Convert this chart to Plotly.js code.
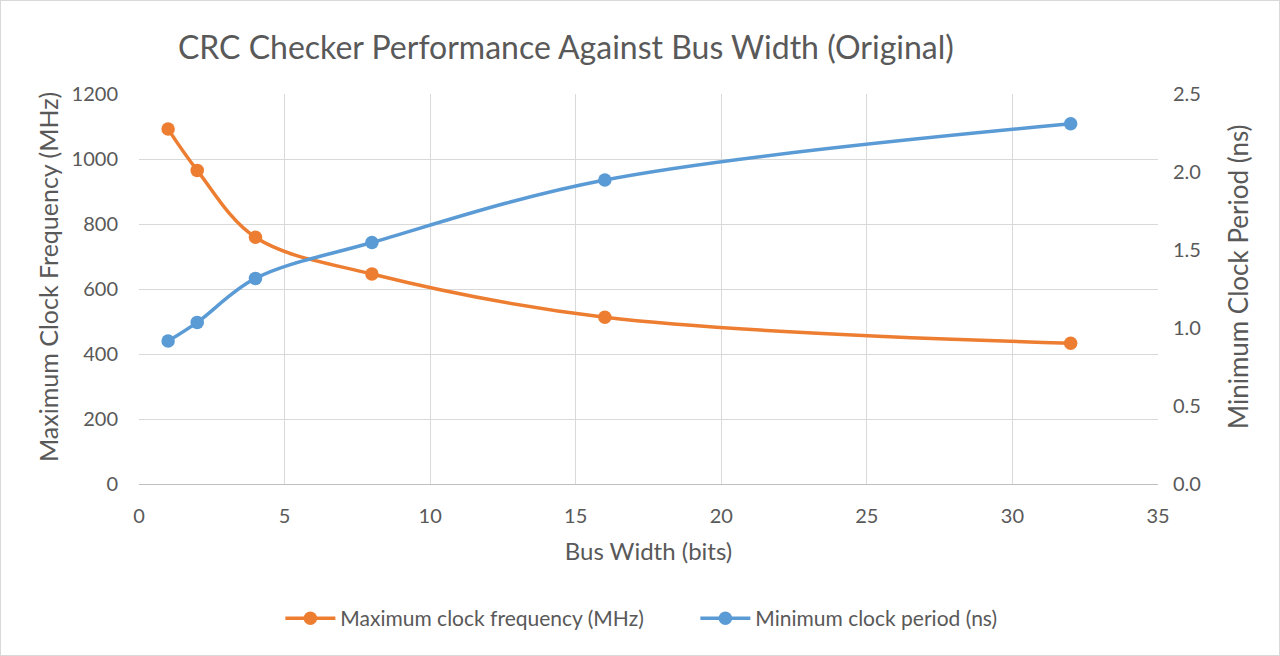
<!DOCTYPE html>
<html>
<head>
<meta charset="utf-8">
<script src="https://cdn.plot.ly/plotly-3.0.1.min.js"></script>
<style>
  html, body { margin: 0; padding: 0; background: #ffffff; }
  #chart { width: 1278px; height: 654px; border: 1px solid #d9d9d9; }
</style>
</head>
<body>
<div id="chart"></div>
<script>
// Bus widths tested (bits)
const busWidth = [1, 2, 4, 8, 16, 32];
// Maximum clock frequency per width (MHz)
const maxFreqMHz = [1092, 965, 759, 646, 513, 433];
// Minimum clock period per width (ns)
const minPeriodNs = [0.916, 1.036, 1.318, 1.548, 1.949, 2.309];

const textGray = '#595959';
const gridGray = '#d9d9d9';
const fontFamily = 'Lato, "Open Sans", sans-serif';

const traces = [
  {
    x: busWidth, y: maxFreqMHz, name: 'Maximum clock frequency (MHz)',
    type: 'scatter', mode: 'lines+markers', yaxis: 'y',
    line: { color: '#ED7D31', width: 3.5, shape: 'spline', smoothing: 1 },
    marker: { color: '#ED7D31', size: 13.5 }
  },
  {
    x: busWidth, y: minPeriodNs, name: 'Minimum clock period (ns)',
    type: 'scatter', mode: 'lines+markers', yaxis: 'y2',
    line: { color: '#5B9BD5', width: 3.5, shape: 'spline', smoothing: 1 },
    marker: { color: '#5B9BD5', size: 13.5 }
  }
];

// Plot area spans x 138..1157 and y 93..483 (px), used to place the side titles.
const plotL = 138, plotW = 1019, plotT = 93, plotH = 390;
const px2x = (px) => (px - plotL) / plotW;
const px2y = (py) => (plotT + plotH - py) / plotH;

const layout = {
  width: 1278, height: 654,
  margin: { l: plotL, r: 1278 - plotL - plotW, t: plotT, b: 654 - plotT - plotH, pad: 0 },
  paper_bgcolor: '#ffffff', plot_bgcolor: '#ffffff',
  font: { family: fontFamily, color: textGray, size: 20 },
  showlegend: true,
  hovermode: false,
  title: {
    text: 'CRC Checker Performance Against Bus Width (Original)',
    font: { size: 32, color: textGray, family: fontFamily },
    xref: 'container', yref: 'container',
    x: 0.442, xanchor: 'center', y: 0.928, yanchor: 'middle'
  },
  xaxis: {
    range: [0, 35], dtick: 5, tick0: 0,
    showgrid: true, gridcolor: gridGray, gridwidth: 1,
    zeroline: false, showline: true, linecolor: '#bfbfbf', linewidth: 1,
    ticks: '', ticklabelstandoff: 14,
    tickfont: { size: 20, color: textGray },
    title: { text: 'Bus Width (bits)', font: { size: 24, color: textGray }, standoff: 17 }
  },
  yaxis: {
    range: [0, 1200], dtick: 200, tick0: 0,
    showgrid: true, gridcolor: gridGray, gridwidth: 1,
    zeroline: false, showline: false,
    ticks: '', ticklabelstandoff: 20,
    tickfont: { size: 20, color: textGray }
  },
  yaxis2: {
    overlaying: 'y', side: 'right',
    range: [0, 2.5], dtick: 0.5, tick0: 0, tickformat: '.1f',
    showgrid: false, zeroline: false, showline: false,
    ticks: '', ticklabelstandoff: 14,
    tickfont: { size: 20, color: textGray }
  },
  annotations: [
    {
      text: 'Maximum Clock Frequency (MHz)', textangle: -90, showarrow: false,
      xref: 'paper', yref: 'paper', x: px2x(47), y: px2y(276),
      xanchor: 'center', yanchor: 'middle',
      font: { size: 25, color: textGray }
    },
    {
      text: 'Minimum Clock Period (ns)', textangle: -90, showarrow: false,
      xref: 'paper', yref: 'paper', x: px2x(1237), y: px2y(276),
      xanchor: 'center', yanchor: 'middle',
      font: { size: 26, color: textGray }
    }
  ],
  legend: {
    orientation: 'h', x: 0.546, xanchor: 'center', y: -0.345, yanchor: 'middle',
    font: { size: 21, color: textGray }, itemwidth: 50, entrywidth: 350
  }
};

Plotly.newPlot('chart', traces, layout, { displayModeBar: false, staticPlot: true });
</script>
</body>
</html>
